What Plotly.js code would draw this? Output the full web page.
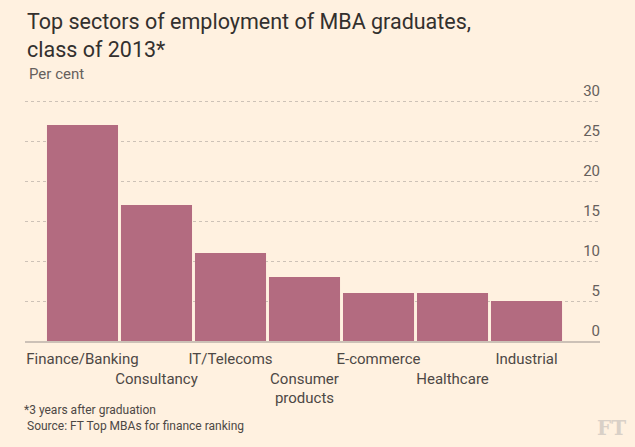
<!DOCTYPE html>
<html>
<head>
<meta charset="utf-8">
<script src="https://cdn.plot.ly/plotly-3.0.1.min.js"></script>
<style>
  html, body { margin: 0; padding: 0; background: #fff1e0; }
  #chart { width: 635px; height: 447px; }
</style>
</head>
<body>
<div id="chart"></div>
<script>
const categories = ["Finance/Banking", "Consultancy", "IT/Telecoms", "Consumer products", "E-commerce", "Healthcare", "Industrial"];
const tickLabels = ["Finance/Banking", "<br>Consultancy", "IT/Telecoms", "<br>Consumer<br>products", "E-commerce", "<br>Healthcare", "Industrial"];
const values = [27, 17, 11, 8, 6, 6, 5];
const yTicks = [0, 5, 10, 15, 20, 25, 30];

const FONT = "Roboto, 'Open Sans', sans-serif";

const plotL = 25, plotR = 600, plotT = 81, plotB = 341;

const trace = {
  type: "bar",
  x: categories,
  y: values,
  marker: { color: "#b36b80", line: { width: 0 } },
  hoverinfo: "skip"
};

const layout = {
  width: 635,
  height: 447,
  paper_bgcolor: "#fff1e0",
  plot_bgcolor: "#fff1e0",
  margin: { l: plotL, r: 635 - plotR, t: plotT, b: 447 - plotB },
  bargap: 0.04,
  showlegend: false,
  font: { family: FONT, color: "#4d4845" },
  title: {
    text: "Top sectors of employment of MBA graduates,<br>class of 2013*",
    xref: "container", yref: "container",
    x: 27 / 635, xanchor: "left",
    y: 1 - 29 / 447, yanchor: "middle",
    font: { family: FONT, size: 21.5, color: "#33302e" }
  },
  xaxis: {
    type: "category",
    range: [-0.777, 6.993],
    tickmode: "array",
    tickvals: categories,
    ticktext: tickLabels,
    tickangle: 0,
    ticks: "",
    ticklabelstandoff: 3,
    showgrid: false,
    showline: true,
    linecolor: "#ccc1b7",
    linewidth: 2,
    automargin: false,
    tickfont: { family: FONT, size: 15, color: "#4d4845" },
    fixedrange: true
  },
  yaxis: {
    range: [0, 32.5],
    side: "right",
    tickmode: "array",
    tickvals: yTicks,
    ticktext: yTicks.map(String),
    ticklabelposition: "inside top",
    ticklabelstandoff: -3,
    ticks: "",
    showline: false,
    zeroline: false,
    showgrid: true,
    gridcolor: "#cdc2b7",
    griddash: "dot",
    gridwidth: 1,
    automargin: false,
    tickfont: { family: FONT, size: 15, color: "#66605c" },
    fixedrange: true
  },
  annotations: [
    {
      text: "Per cent",
      x: 27, y: 74, xanchor: "left", yanchor: "middle",
      showarrow: false, font: { family: FONT, size: 15, color: "#66605c" }
    },
    {
      text: "*3 years after graduation",
      x: 22, y: 410, xanchor: "left", yanchor: "middle",
      showarrow: false, font: { family: FONT, size: 12, color: "#4d4845" }
    },
    {
      text: "Source: FT Top MBAs for finance ranking",
      x: 25, y: 426, xanchor: "left", yanchor: "middle",
      showarrow: false, font: { family: FONT, size: 12, color: "#4d4845" }
    },
    {
      text: "<b>FT</b>",
      x: 611, y: 428, xanchor: "center", yanchor: "middle",
      showarrow: false, font: { family: "'DejaVu Serif', 'Liberation Serif', serif", size: 20, color: "#d9d0c7" }
    }
  ]
};

// convert pixel positions of annotations to paper coordinates
layout.annotations.forEach(a => {
  a.xref = "paper"; a.yref = "paper";
  const px = a.x, py = a.y;
  a.x = (px - plotL) / (plotR - plotL);
  a.y = (plotB - py) / (plotB - plotT);
});

Plotly.newPlot("chart", [trace], layout, { displayModeBar: false, staticPlot: true });
</script>
</body>
</html>
